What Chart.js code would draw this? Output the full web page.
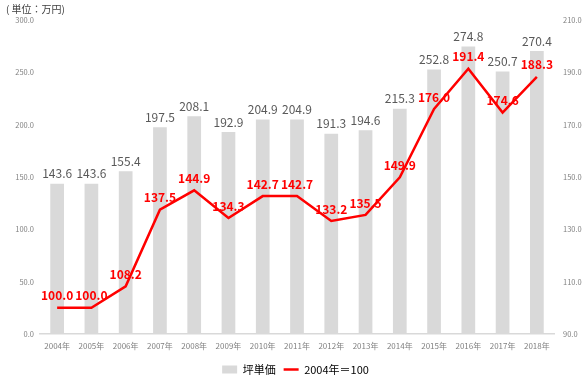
<!DOCTYPE html>
<html>
<head>
<meta charset="utf-8">
<script src="https://cdn.jsdelivr.net/npm/chart.js@4"></script>
<style>
  html, body { margin: 0; padding: 0; background: #fff; }
  #wrap { width: 585px; height: 385px; }
</style>
</head>
<body>
<div id="wrap"><canvas id="g"></canvas></div>
<script>
const years = ['2004年', '2005年', '2006年', '2007年', '2008年', '2009年', '2010年', '2011年',
    '2012年', '2013年', '2014年', '2015年', '2016年', '2017年', '2018年'];
const tsuboPrice = [143.6, 143.6, 155.4, 197.5, 208.1, 192.9, 204.9, 204.9, 191.3, 194.6, 215.3, 252.8, 274.8, 250.7, 270.4];
const index2004 = [100.0, 100.0, 108.2, 137.5, 144.9, 134.3, 142.7, 142.7, 133.2, 135.5, 149.9, 176.0, 191.4, 174.6, 188.3];

const jp = '"Noto Sans CJK JP", "Noto Sans", sans-serif';

// value labels above bars and points
const valueLabels = {
    id: 'valueLabels',
    afterDatasetsDraw(chart) {
        const ctx = chart.ctx;
        ctx.save();
        ctx.textAlign = 'center';
        ctx.textBaseline = 'bottom';

        const bars = chart.getDatasetMeta(0);
        ctx.fillStyle = '#595959';
        ctx.font = '12px ' + jp;
        bars.data.forEach((el, i) => {
            ctx.fillText(tsuboPrice[i].toFixed(1), el.x, el.y - 4);
        });

        const pts = chart.getDatasetMeta(1);
        ctx.fillStyle = '#ff0000';
        ctx.font = 'bold 12px ' + jp;
        pts.data.forEach((el, i) => {
            ctx.fillText(index2004[i].toFixed(1), el.x, el.y - 6);
        });
        ctx.restore();
    }
};

const config = {
    data: {
        labels: years,
        datasets: [
            {
                type: 'bar',
                label: '坪単価',
                data: tsuboPrice,
                backgroundColor: '#d9d9d9',
                categoryPercentage: 1,
                barPercentage: 0.4,
                yAxisID: 'y',
                order: 2
            },
            {
                type: 'line',
                label: '2004年＝100',
                data: index2004,
                borderColor: '#ff0000',
                backgroundColor: '#ff0000',
                borderWidth: 2.5,
                pointRadius: 0,
                tension: 0,
                yAxisID: 'y1',
                order: 1
            }
        ]
    },
    options: {
        responsive: true,
        maintainAspectRatio: false,
        animation: false,
        layout: { padding: { left: 6, right: 0, top: 0, bottom: 0 } },
        plugins: {
            title: {
                display: true,
                text: '( 単位：万円)',
                align: 'start',
                color: '#404040',
                font: { family: jp, size: 10, weight: 'normal' },
                padding: { top: 3, bottom: 5 }
            },
            legend: {
                position: 'bottom',
                labels: {
                    usePointStyle: true,
                    pointStyleWidth: 15,
                    boxHeight: 8,
                    padding: 8,
                    color: '#595959',
                    font: { family: jp, size: 11 },
                    generateLabels(chart) {
                        return [
                            { text: '坪単価', fillStyle: '#d9d9d9', strokeStyle: '#d9d9d9', lineWidth: 0, pointStyle: 'rect', datasetIndex: 0 },
                            { text: '2004年＝100', fillStyle: '#ff0000', strokeStyle: '#ff0000', lineWidth: 2.5, pointStyle: 'line', datasetIndex: 1 }
                        ];
                    }
                }
            },
            tooltip: { enabled: false }
        },
        scales: {
            x: {
                grid: { display: false, drawTicks: false },
                border: { color: '#d9d9d9', width: 1.5 },
                ticks: { color: '#808080', font: { family: jp, size: 8 }, padding: 7, maxRotation: 0 },
                afterFit(s) { s.height = 22; }
            },
            y: {
                position: 'left',
                min: 0,
                max: 300,
                grid: { display: false, drawTicks: false },
                border: { display: false },
                ticks: {
                    stepSize: 50,
                    color: '#808080',
                    font: { family: jp, size: 7.5 },
                    padding: 6,
                    callback: v => v.toFixed(1)
                },
                afterFit(s) { s.width = 34; }
            },
            y1: {
                position: 'right',
                min: 90,
                max: 210,
                grid: { display: false, drawTicks: false },
                border: { display: false },
                ticks: {
                    stepSize: 20,
                    color: '#808080',
                    font: { family: jp, size: 7.5 },
                    padding: 9,
                    callback: v => v.toFixed(1)
                },
                afterFit(s) { s.width = 31; }
            }
        }
    },
    plugins: [valueLabels]
};

new Chart(document.getElementById('g'), config);
</script>
</body>
</html>
